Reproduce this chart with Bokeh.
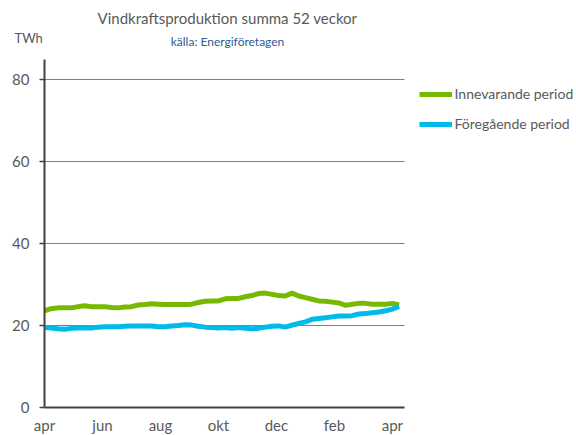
from bokeh.plotting import figure
from bokeh.models import Range1d, Label, Legend, LegendItem, FixedTicker
from bokeh.embed import file_html
from bokeh.resources import INLINE

weeks = list(range(54))
innevarande = [23.6, 24.1, 24.3, 24.3, 24.3, 24.6, 24.8, 24.6, 24.6, 24.6,
               24.4, 24.3, 24.5, 24.6, 25.0, 25.1, 25.3, 25.2, 25.1, 25.1,
               25.1, 25.1, 25.2, 25.6, 25.9, 26.0, 26.0, 26.5, 26.6, 26.6,
               27.0, 27.3, 27.8, 27.9, 27.6, 27.3, 27.2, 27.9, 27.2, 26.8,
               26.4, 26.0, 25.9, 25.7, 25.5, 24.9, 25.2, 25.4, 25.4, 25.2,
               25.2, 25.2, 25.4, 25.0]
foregaende = [19.5, 19.4, 19.2, 19.1, 19.3, 19.4, 19.4, 19.4, 19.6, 19.7,
              19.7, 19.7, 19.8, 19.9, 19.9, 19.9, 19.9, 19.7, 19.7, 19.9,
              20.0, 20.2, 20.1, 19.8, 19.6, 19.5, 19.4, 19.5, 19.3, 19.5,
              19.3, 19.2, 19.3, 19.6, 19.8, 19.9, 19.6, 20.1, 20.5, 20.9,
              21.5, 21.7, 21.9, 22.1, 22.3, 22.3, 22.4, 22.8, 22.9, 23.1,
              23.3, 23.6, 24.0, 24.7]
month_ticks = [0, 52/6, 2*52/6, 3*52/6, 4*52/6, 5*52/6, 52]
month_labels = ["apr", "jun", "aug", "okt", "dec", "feb", "apr"]
y_ticks = [0, 20, 40, 60, 80]
grid_ticks = [20, 40, 60, 80]

FONT = "Lato"
GREY = "#595959"
AXIS = "#404040"

W, H = 576, 435
# pixel mapping of the reference: x page = 44 + 6.69*week, y page = 407 - 4.1*TWh
PXW, PXV = 6.69, 4.1
def dx(px):
    return (px - 44) / PXW
def dy(py):
    return (407 - py) / PXV

X_END = dx(404)
Y_TOP = dy(59)

p = figure(width=W, height=H, output_backend="svg", toolbar_location=None,
           min_border=0,
           x_range=Range1d(dx(0), dx(W)), y_range=Range1d(dy(H), dy(0)))
p.outline_line_color = None
p.background_fill_color = "white"
p.border_fill_color = "white"
p.xgrid.grid_line_color = None
p.ygrid.grid_line_color = None

# horizontal gridlines limited to the plotting region
p.segment(x0=[0] * len(grid_ticks), x1=[X_END] * len(grid_ticks),
          y0=grid_ticks, y1=grid_ticks, line_color="#7f7f7f", line_width=1)

ya = p.yaxis[0]
ya.fixed_location = 0
ya.bounds = (0, Y_TOP)
ya.ticker = FixedTicker(ticks=y_ticks)
ya.axis_line_color = AXIS
ya.axis_line_width = 2
ya.major_tick_line_color = AXIS
ya.major_tick_line_width = 1.5
ya.major_tick_out = 5
ya.major_tick_in = 0
ya.minor_tick_line_color = None
ya.major_label_text_font = FONT
ya.major_label_text_font_size = "15px"
ya.major_label_text_color = GREY
ya.major_label_standoff = 10

xa = p.xaxis[0]
xa.fixed_location = 0
xa.bounds = (0, X_END)
xa.ticker = FixedTicker(ticks=month_ticks)
xa.major_label_overrides = {t: l for t, l in zip(month_ticks, month_labels)}
xa.axis_line_color = AXIS
xa.axis_line_width = 2
xa.major_tick_line_color = None
xa.minor_tick_line_color = None
xa.major_label_text_font = FONT
xa.major_label_text_font_size = "15px"
xa.major_label_text_color = GREY
xa.major_label_standoff = 2

r1 = p.line(weeks, innevarande, line_color="#77b900", line_width=5)
r2 = p.line(weeks, foregaende, line_color="#00bbe8", line_width=5)

legend = Legend(items=[LegendItem(label="Innevarande period", renderers=[r1]),
                       LegendItem(label="Föregående period", renderers=[r2])],
                location=(418.5, H - 133.5), orientation="vertical",
                glyph_width=33, glyph_height=20, label_height=20, spacing=10,
                label_standoff=3, padding=0, margin=0,
                border_line_color=None, background_fill_alpha=0,
                label_text_font=FONT, label_text_font_size="14px",
                label_text_color=GREY)
p.add_layout(legend)

p.add_layout(Label(x=dx(14), y=dy(37.5), text="TWh", text_font=FONT,
                   text_font_size="13px", text_color=GREY,
                   text_baseline="middle"))
p.add_layout(Label(x=dx(227), y=dy(17), text="Vindkraftsproduktion summa 52 veckor",
                   text_font=FONT, text_font_size="15px", text_color=GREY,
                   text_align="center", text_baseline="middle"))
p.add_layout(Label(x=dx(227), y=dy(41), text="källa: Energiföretagen",
                   text_font=FONT, text_font_size="12px", text_color="#2f5b8f",
                   text_align="center", text_baseline="middle"))

open("out.html", "w").write(file_html(p, INLINE))
